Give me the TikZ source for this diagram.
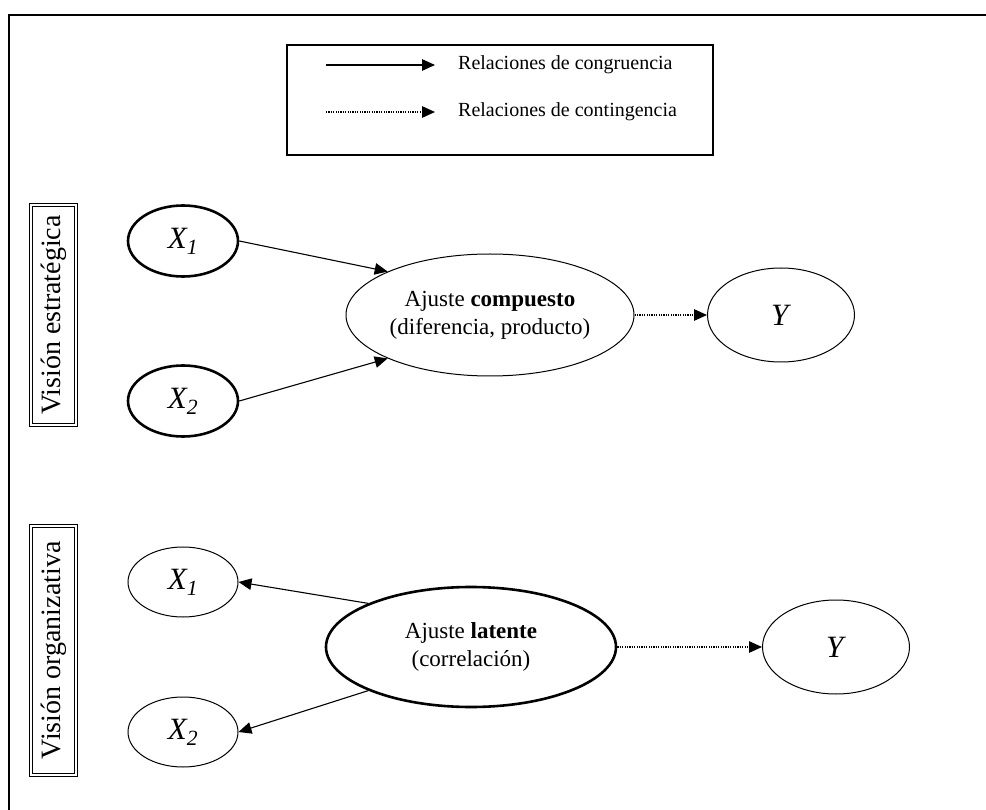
\documentclass[tikz,border=0pt]{standalone}
\usepackage{fontspec}
\setmainfont{Liberation Serif}
\usetikzlibrary{shapes.geometric, arrows.meta}

\tikzset{
  varthick/.style={draw, ellipse, line width=2.6pt, inner sep=0pt, minimum width=110pt, minimum height=71pt, font=\fontsize{31}{34}\selectfont},
  varthin/.style={draw, ellipse, line width=1pt, inner sep=0pt, minimum width=110pt, minimum height=70pt, font=\fontsize{31}{34}\selectfont},
  ajuste/.style={draw, ellipse, inner sep=0pt, align=center, font=\fontsize{23}{28}\selectfont},
  vision/.style={draw, double, double distance=2pt, line width=0.9pt, rotate=90, inner sep=0pt, minimum height=45pt, font=\fontsize{28}{30}\selectfont},
  congr/.style={line width=1.1pt, -{Triangle[length=13pt, width=11.5pt]}},
  conting/.style={line width=1.1pt, dash pattern=on 1.2pt off 1.2pt, -{Triangle[length=13pt, width=11.5pt]}},
  leyenda/.style={anchor=west, inner sep=0pt, font=\fontsize{20}{22}\selectfont}
}

\newcommand{\vx}[1]{\textit{X}\textsubscript{\kern-1pt\textit{#1}}}

\begin{document}
\begin{tikzpicture}[x=1pt,y=1pt,yscale=-1,xscale=1]

            \useasboundingbox (0,0) rectangle (986,810);

            % Frame
            \draw[line width=2.5pt] (9,810) -- (9,15) -- (986,15);

            % Legend
            \draw[line width=1.2pt] (287,45) rectangle (713,155);
            \coordinate (l1a) at (326,65);
            \coordinate (l1b) at (435,65);
            \coordinate (l2a) at (326,112);
            \coordinate (l2b) at (435,112);
            \draw[congr] (l1a) -- (l1b);
            \draw[conting] (l2a) -- (l2b);
            \node[leyenda] (t1) at (458,65) {Relaciones de congruencia};
            \node[leyenda] (t2) at (458,112) {Relaciones de contingencia};

            % Vision labels
            \node[vision, minimum width=220pt] (ve) at (53.5,315) {Visión estratégica};
            \node[vision, minimum width=249pt] (vo) at (53.5,650.5) {Visión organizativa};

            % Strategic view
            \node[varthick] (x1s) at (183,241) {\vx{1}};
            \node[varthick] (x2s) at (183,401) {\vx{2}};
            \node[ajuste, line width=1pt, minimum width=288pt, minimum height=122pt] (comp) at (490,315) {Ajuste \textbf{compuesto}\\(diferencia, producto)};
            \node[varthin, minimum width=147pt, minimum height=94pt] (ys) at (781,315) {\textit{Y}};

            % Organizational view
            \node[varthin] (x1o) at (183,582) {\vx{1}};
            \node[varthin] (x2o) at (183,732) {\vx{2}};
            \node[ajuste, line width=2.6pt, minimum width=290pt, minimum height=120pt] (lat) at (471,647) {Ajuste \textbf{latente}\\(correlación)};
            \node[varthin, minimum width=147pt, minimum height=94pt] (yo) at (836,647) {\textit{Y}};

            % Arrows
            \draw[congr] (x1s.east) -- (comp.157);
            \draw[congr] (x2s.east) -- (comp.203);
            \draw[conting] (comp.east) -- (ys.west);
            \draw[congr] (lat.157) -- (x1o.east);
            \draw[congr] (lat.203) -- (x2o.east);
            \draw[conting] (lat.east) -- (yo.west);

\end{tikzpicture}
\end{document}
